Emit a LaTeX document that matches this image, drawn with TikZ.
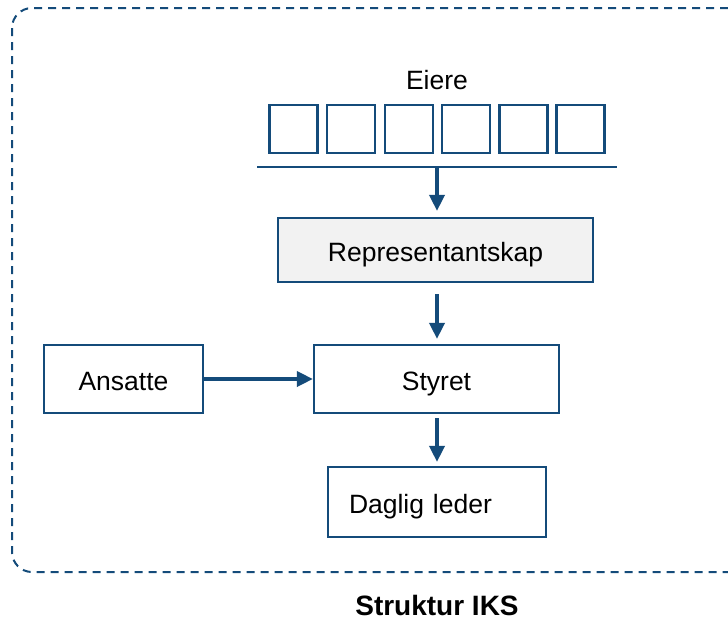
\documentclass[tikz,border=0pt]{standalone}
\usepackage{fontspec}
\setmainfont{Liberation Sans}
\usetikzlibrary{arrows.meta}
\definecolor{iksblue}{RGB}{20,75,122}
\definecolor{repgray}{RGB}{242,242,242}
\begin{document}
\begin{tikzpicture}
  [
    x=1pt, y=-1pt,
    font=\fontsize{26.5}{30}\selectfont,
    box/.style =
      {draw=iksblue, line width=2.2pt, align=center, inner sep=0pt,
       text height=25pt, text depth=2pt},
    owner/.style =
      {draw=iksblue, line width=2.2pt, minimum size=48pt, inner sep=0pt},
    sarrow/.style =
      {-{Triangle[length=16pt, width=15pt]}, draw=iksblue, line width=3.6pt}
  ]
  \useasboundingbox (0,0) rectangle (728,621);
  \draw [iksblue, line width=2pt, dash pattern=on 8pt off 6pt, rounded corners=20pt]
    (12,8) rectangle (760,572);

  \node at (437, 80) (eiere) {Eiere};
  \node [owner] at (293.5, 129) (o1) {};
  \node [owner] at (351,   129) (o2) {};
  \node [owner] at (409,   129) (o3) {};
  \node [owner] at (466,   129) (o4) {};
  \node [owner] at (523.5, 129) (o5) {};
  \node [owner] at (580.5, 129) (o6) {};
  \coordinate (barl) at (257, 167);
  \coordinate (barr) at (617, 167);
  \coordinate (bar)  at (437, 167);
  \draw [iksblue, line width=2pt] (barl) -- (barr);

  \node [box, fill=repgray, minimum width=315pt, minimum height=64pt]
    at (435.5, 250) (rep) {Representantskap};
  \node [box, minimum width=245pt, minimum height=68pt] at (436.5, 379) (styret) {Styret};
  \node [box, minimum width=159pt, minimum height=68pt] at (123.5, 379) (ansatte) {Ansatte};
  \node [box, text width=176pt, inner xsep=21pt, align=left, minimum height=70pt]
    at (437, 502) (leder) {Daglig leder};

  \draw [sarrow, shorten >=6pt] (bar) -- (bar |- rep.north);
  \draw [sarrow, shorten <=11pt, shorten >=5pt] (bar |- rep.south) -- (bar |- styret.north);
  \draw [sarrow, shorten <=4pt, shorten >=4pt] (bar |- styret.south) -- (bar |- leder.north);
  \draw [sarrow] (ansatte.east) -- (styret.west);

  \node [inner sep=0pt, font=\fontsize{28}{32}\selectfont\bfseries] at (437, 605) (title) {Struktur IKS};
\end{tikzpicture}
\end{document}
